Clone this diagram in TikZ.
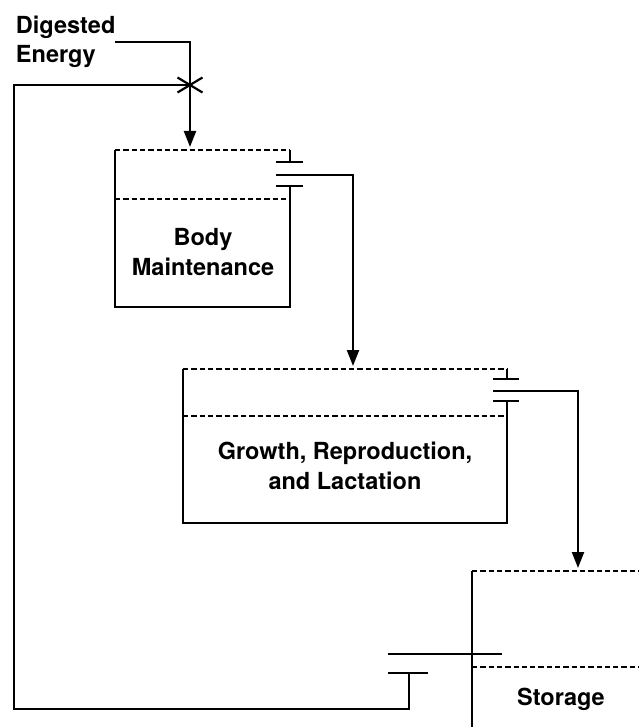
\documentclass[tikz,border=0pt]{standalone}
\usepackage{fontspec}
\setmainfont{TeX Gyre Heros}
\usetikzlibrary{arrows.meta,calc}

\tikzset{
  wall/.style={line width=2.2pt},
  level/.style={line width=2.2pt, dash pattern=on 5.3pt off 3pt},
  flow/.style={line width=2.2pt, -{Triangle[length=16pt,width=12pt]}},
  pooltext/.style={font=\fontsize{23.5}{29.5}\selectfont\bfseries, align=center, inner sep=0pt},
}

\begin{document}
\begin{tikzpicture}[x=1pt, y=-1pt, outer sep=0pt]
    \useasboundingbox (0,0) rectangle (639,727);

    % input
    \node[pooltext, align=left, anchor=north west] (de_txt) at (16,15.5) {Digested\\Energy};
    \coordinate (de_in) at (115,42);
    \coordinate (de_bend) at (190,42);
    \coordinate (de_cross) at (190,85);

    % body maintenance
    \coordinate (bm_nw) at (115,150);
    \coordinate (bm_ne) at (290,150);
    \coordinate (bm_lw) at (115,199);
    \coordinate (bm_le) at (290,199);
    \coordinate (bm_sw) at (115,307);
    \coordinate (bm_se) at (290,307);
    \coordinate (bm_in) at (190,147);
    \coordinate (bm_out) at (276,175);
    \coordinate (bm_bend) at (353,175);
    \node[pooltext] (bm_txt) at (203,252) {Body\\Maintenance};

    % growth, reproduction and lactation
    \coordinate (gr_nw) at (183,369);
    \coordinate (gr_ne) at (507,369);
    \coordinate (gr_lw) at (183,416);
    \coordinate (gr_le) at (507,416);
    \coordinate (gr_sw) at (183,523);
    \coordinate (gr_se) at (507,523);
    \coordinate (gr_in) at (353,366);
    \coordinate (gr_out) at (493,391);
    \coordinate (gr_bend) at (578,391);
    \node[pooltext] (gr_txt) at (345,466) {Growth, Reproduction,\\and Lactation};

    % storage
    \coordinate (st_nw) at (472,571);
    \coordinate (st_ne) at (639,571);
    \coordinate (st_lw) at (472,667);
    \coordinate (st_le) at (639,667);
    \coordinate (st_sw) at (472,727);
    \coordinate (st_in) at (578,568);
    \coordinate (st_out) at (409,673);
    \coordinate (st_low) at (409,709);
    \coordinate (ret_sw) at (14,709);
    \coordinate (ret_nw) at (14,85);
    \node[pooltext, anchor=base] (st_txt) at (561,705) {Storage};

    % pools
    \draw[level] (bm_nw) -- (bm_ne);
    \draw[level] (bm_lw) -- (bm_le);
    \draw[wall] (bm_nw) -- (bm_sw) -- (bm_se) -- ($(bm_se)+(0,-121)$);
    \draw[wall] (bm_ne) -- ++(0,12) ++(-14,0) -- ++(27,0);
    \draw[wall] (276,186) -- (303,186);

    \draw[level] (gr_nw) -- (gr_ne);
    \draw[level] (gr_lw) -- (gr_le);
    \draw[wall] (gr_nw) -- (gr_sw) -- (gr_se) -- (507,401);
    \draw[wall] (gr_ne) -- ++(0,10) ++(-14,0) -- ++(26,0);
    \draw[wall] (493,401) -- (519,401);

    \draw[level] (st_nw) -- (st_ne);
    \draw[level] (st_lw) -- (st_le);
    \draw[wall] (st_nw) -- (st_sw);
    \draw[wall] (388,654) -- (502,654);
    \draw[wall] (388,673) -- (428,673);

    % flows
    \draw[flow] (de_in) -- (de_bend) -- (bm_in);
    \draw[wall] ($(de_cross)+(-12.5,-7.5)$) -- ($(de_cross)+(12.5,7.5)$);
    \draw[wall] ($(de_cross)+(-12.5,7.5)$) -- ($(de_cross)+(12.5,-7.5)$);
    \draw[flow] (bm_out) -- (bm_bend) -- (gr_in);
    \draw[flow] (gr_out) -- (gr_bend) -- (st_in);
    \draw[wall] (st_out) -- (st_low) -- (ret_sw) -- (ret_nw) -- (de_cross);

\end{tikzpicture}
\end{document}
